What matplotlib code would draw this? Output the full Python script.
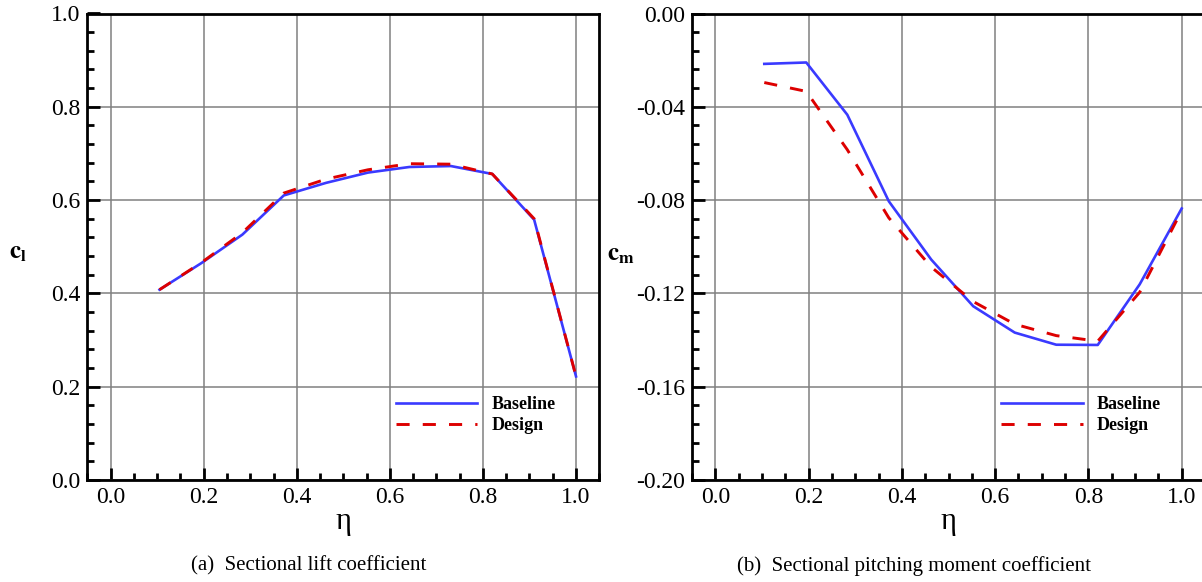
import matplotlib
matplotlib.use("Agg")
import matplotlib.pyplot as plt
from matplotlib.ticker import MultipleLocator, FuncFormatter

# spanwise stations and sectional coefficients
eta = [0.105, 0.195, 0.283, 0.372, 0.463, 0.553, 0.642, 0.731, 0.82, 0.91, 1.0]
cl_baseline = [0.408, 0.465, 0.526, 0.610, 0.637, 0.659, 0.671, 0.673, 0.656, 0.558, 0.222]
cl_design = [0.408, 0.466, 0.530, 0.615, 0.645, 0.665, 0.678, 0.677, 0.656, 0.560, 0.222]
cm_baseline = [-0.0216, -0.0210, -0.0434, -0.0805, -0.1055, -0.1255, -0.1368, -0.1420, -0.1421, -0.1161, -0.0836]
cm_design = [-0.0296, -0.0334, -0.0584, -0.0876, -0.1087, -0.1235, -0.1332, -0.1381, -0.1405, -0.1195, -0.0845]

series_labels = ["Baseline", "Design"]
captions = ["(a)  Sectional lift coefficient", "(b)  Sectional pitching moment coefficient"]

plt.rcParams['font.family'] = ['Liberation Serif', 'DejaVu Serif']
plt.rcParams['mathtext.fontset'] = 'stix'
plt.rcParams['axes.unicode_minus'] = False

W, H = 1202, 582
fig = plt.figure(figsize=(W / 100, H / 100), dpi=100)

# axes boxes in pixels: left, right, top, bottom
boxes = [(87.4, 599.3, 13.5, 480), (692, 1205, 13.5, 480)]
axes = []
for l, r, t, b in boxes:
    axes.append(fig.add_axes([l / W, 1 - b / H, (r - l) / W, (b - t) / H]))

blue = '#3a3aff'
red = '#dd0000'


def fmt(decimals):
    # round first so the top tick reads 0.00 and not -0.00
    return FuncFormatter(lambda v, p: f'{round(v, decimals) + 0.0:.{decimals}f}')


def style_axis(ax, ymin, ymax, ymajor, yminor, ydec):
    ax.set_xlim(-0.05, 1.05)
    ax.set_ylim(ymin, ymax)
    ax.xaxis.set_major_locator(MultipleLocator(0.2))
    ax.xaxis.set_minor_locator(MultipleLocator(0.05))
    ax.yaxis.set_major_locator(MultipleLocator(ymajor))
    ax.yaxis.set_minor_locator(MultipleLocator(yminor))
    ax.xaxis.set_major_formatter(fmt(1))
    ax.yaxis.set_major_formatter(fmt(ydec))
    ax.tick_params(which='both', direction='in', top=False, right=False, width=2)
    ax.tick_params(which='major', length=9, labelsize=17, pad=5)
    ax.tick_params(which='minor', length=5)
    for s in ax.spines.values():
        s.set_linewidth(2)
    ax.grid(True, which='major', color='#808080', linewidth=1.1)
    ax.set_axisbelow(True)


def draw(ax, base, design):
    ax.plot(eta, base, color=blue, linewidth=1.9, label=series_labels[0], zorder=3)
    ax.plot(eta, design, color=red, linewidth=2.1, dashes=(4.5, 4.5), label=series_labels[1], zorder=4)
    ax.legend(loc='center left', bbox_to_anchor=(0.603, 0.139), frameon=False,
              borderpad=0, borderaxespad=0, handlelength=4.5, handletextpad=0.8,
              labelspacing=0.25, prop={'family': 'Liberation Serif', 'weight': 'bold', 'size': 13})


ax1, ax2 = axes
style_axis(ax1, 0.0, 1.0, 0.2, 0.04, 1)
draw(ax1, cl_baseline, cl_design)
style_axis(ax2, -0.20, 0.0, 0.04, 0.008, 2)
draw(ax2, cm_baseline, cm_design)

# axis titles placed in figure pixels
fig.text(18 / W, 1 - 253 / H, r'$\mathbf{c}_\mathbf{l}$', fontsize=18, ha='center', va='center')
fig.text(621 / W, 1 - 255 / H, r'$\mathbf{c}_\mathbf{m}$', fontsize=18, ha='center', va='center')
fig.text(343 / W, 1 - 522 / H, 'η', fontsize=22, ha='center', va='center')
fig.text(948 / W, 1 - 522 / H, 'η', fontsize=22, ha='center', va='center')

fig.text(309 / W, 1 - 566 / H, captions[0], fontsize=15, ha='center', va='center')
fig.text(914 / W, 1 - 566 / H, captions[1], fontsize=15, ha='center', va='center')

fig.savefig('out.png', dpi=100)
